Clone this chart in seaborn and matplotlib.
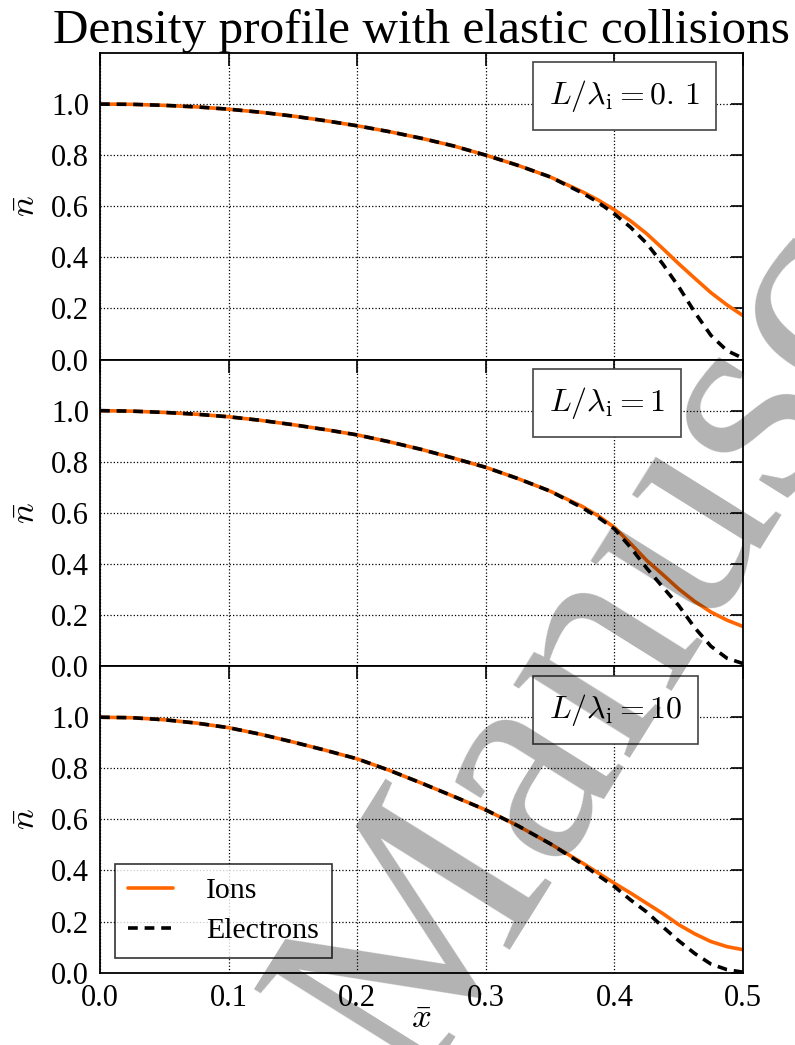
import numpy as np
import pandas as pd
import seaborn as sns
import matplotlib.pyplot as plt

# positions along the slab (x bar) and density readings for each panel
x_bar = [0.0, 0.025, 0.05, 0.075, 0.1, 0.125, 0.15, 0.175, 0.2, 0.225, 0.25, 0.275, 0.3,
         0.325, 0.35, 0.375, 0.3875, 0.4, 0.4125, 0.425, 0.4375, 0.45, 0.4625, 0.475, 0.4875, 0.5]

ions_01 = [1.000, 0.999, 0.995, 0.989, 0.980, 0.968, 0.953, 0.935, 0.915, 0.892, 0.866, 0.836, 0.800,
           0.760, 0.715, 0.657, 0.624, 0.586, 0.543, 0.493, 0.435, 0.375, 0.318, 0.262, 0.214, 0.172]
elec_01 = [1.000, 0.999, 0.995, 0.989, 0.980, 0.968, 0.953, 0.935, 0.915, 0.892, 0.866, 0.836, 0.800,
           0.760, 0.715, 0.652, 0.615, 0.570, 0.518, 0.455, 0.375, 0.285, 0.185, 0.095, 0.035, 0.005]

ions_1 = [1.000, 0.998, 0.993, 0.986, 0.976, 0.962, 0.945, 0.926, 0.905, 0.878, 0.848, 0.814, 0.778,
          0.734, 0.685, 0.625, 0.588, 0.543, 0.480, 0.414, 0.359, 0.302, 0.253, 0.212, 0.180, 0.155]
elec_1 = [1.000, 0.998, 0.993, 0.986, 0.976, 0.962, 0.945, 0.926, 0.905, 0.878, 0.848, 0.814, 0.778,
          0.734, 0.685, 0.620, 0.582, 0.537, 0.465, 0.384, 0.310, 0.237, 0.150, 0.078, 0.031, 0.010]

ions_10 = [1.000, 0.998, 0.990, 0.977, 0.959, 0.933, 0.903, 0.871, 0.837, 0.792, 0.742, 0.690, 0.637,
           0.575, 0.505, 0.430, 0.390, 0.350, 0.312, 0.272, 0.232, 0.188, 0.152, 0.122, 0.102, 0.090]
elec_10 = [1.000, 0.998, 0.990, 0.977, 0.959, 0.933, 0.903, 0.871, 0.837, 0.792, 0.742, 0.690, 0.637,
           0.575, 0.505, 0.425, 0.380, 0.337, 0.285, 0.238, 0.180, 0.125, 0.075, 0.034, 0.012, 0.002]

panel_labels = [r"$L/\lambda_{\mathrm{i}} = 0.\,1$", r"$L/\lambda_{\mathrm{i}} = 1$",
                r"$L/\lambda_{\mathrm{i}} = 10$"]
ions_series = [ions_01, ions_1, ions_10]
elec_series = [elec_01, elec_1, elec_10]

x_ticks = [0.0, 0.1, 0.2, 0.3, 0.4, 0.5]
y_ticks = [0.0, 0.2, 0.4, 0.6, 0.8, 1.0]

sns.set_style("white")
plt.rcParams["font.family"] = ["Liberation Serif", "DejaVu Serif"]
plt.rcParams["mathtext.fontset"] = "cm"
plt.rcParams["xtick.direction"] = "in"
plt.rcParams["ytick.direction"] = "in"
for k in ["text.color", "axes.labelcolor", "xtick.color", "ytick.color"]:
    plt.rcParams[k] = "black"

fig, axes = plt.subplots(3, 1, sharex=True, figsize=(7.95, 10.45), dpi=100)
fig.subplots_adjust(left=0.1258, right=0.9346, top=0.9493, bottom=0.0692, hspace=0)

for i, ax in enumerate(axes):
    df = pd.DataFrame({"x": x_bar, "Ions": ions_series[i], "Electrons": elec_series[i]})
    sns.lineplot(data=df, x="x", y="Ions", ax=ax, color="#ff6600", lw=2.6, label="Ions")
    sns.lineplot(data=df, x="x", y="Electrons", ax=ax, color="black", lw=2.6, label="Electrons")
    ax.lines[1].set_dashes((2.7, 1.9))

    ax.set_xlim(0, 0.5)
    ax.set_ylim(0, 1.2)
    ax.set_xticks(x_ticks)
    ax.set_yticks(y_ticks)
    ax.grid(True, color="black", linestyle=":", lw=0.9)
    for s in ax.spines.values():
        s.set_color("black")
        s.set_linewidth(1.3)
    ax.tick_params(which="both", top=True, right=True, length=9, width=1.2,
                   labelsize=22, pad=8, color="black")
    ax.set_ylabel(r"$\bar{n}$", fontsize=25)
    ax.yaxis.set_label_coords(-0.088, 0.5)
    ax.set_xlabel("")

    ax.text(0.349, 1.03, panel_labels[i], fontsize=23, ha="left", va="center",
            bbox=dict(boxstyle="square,pad=0.5", fc="white", ec="#444444", lw=1.2))

    if i < 2:
        ax.get_legend().remove()
        ax.tick_params(labelbottom=False)

leg = axes[2].legend(loc="lower left", fontsize=21.5, frameon=True, fancybox=False,
                     borderaxespad=0.5, handlelength=1.5, handletextpad=1.1,
                     labelspacing=0.45, borderpad=0.45)
leg.get_frame().set_edgecolor("black")
leg.get_frame().set_linewidth(1.2)

axes[2].set_xlabel(r"$\bar{x}$", fontsize=25)
axes[2].xaxis.set_label_coords(0.5, -0.1)
axes[2].tick_params(axis="x", pad=8)

axes[0].set_title("Density profile with elastic collisions", fontsize=35.5, pad=4)

# grey watermark over the figure
fig.text(0.518, -0.046, "Manuscript", fontsize=215, rotation=58, rotation_mode="anchor",
         ha="left", va="baseline", color="black", alpha=0.3, zorder=10)
fig.text(0.518, -0.046, "Accepted ", fontsize=215, rotation=58, rotation_mode="anchor",
         ha="right", va="baseline", color="black", alpha=0.3, zorder=10)

fig.savefig("out.png", dpi=100)
